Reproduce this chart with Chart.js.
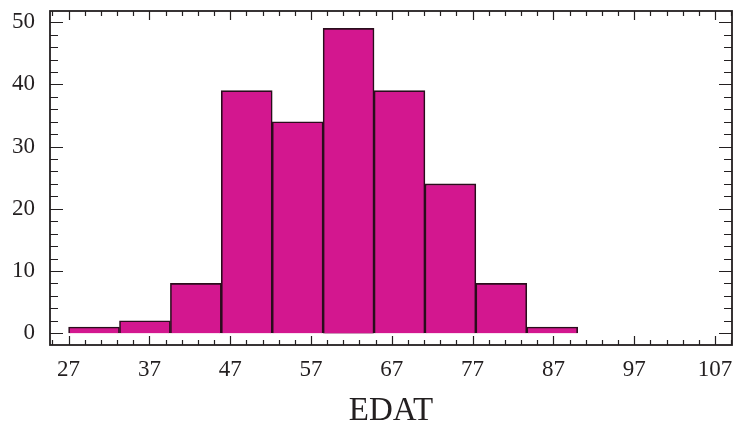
<!DOCTYPE html>
<html>
<head>
<meta charset="utf-8">
<script src="https://cdn.jsdelivr.net/npm/chart.js@4"></script>
<style>
  body { margin: 0; background: #fff; }
  #wrap { width: 734px; height: 428px; }
</style>
</head>
<body>
<div id="wrap"><canvas id="hist"></canvas></div>
<script>
//histogram data
const binEdges = [27, 33.3, 39.6, 45.9, 52.2, 58.5, 64.8, 71.1, 77.4, 83.7, 90];
const counts = [1, 2, 8, 39, 34, 49, 39, 24, 8, 1];

//axes
const xTicks = [27, 37, 47, 57, 67, 77, 87, 97, 107];
const yTicks = [0, 10, 20, 30, 40, 50];
const xTitle = 'EDAT';

const serif = 'Liberation Serif';
const ink = '#231f20';

//bars sit on the bin centres, width comes from the bin spacing
const points = counts.map((c, i) => ({ x: (binEdges[i] + binEdges[i + 1]) / 2, y: c }));

//frame with inward ticks on all four sides
const frameTicks = {
  id: 'frameTicks',
  afterDraw(chart) {
    const { ctx, chartArea: a, scales: { x, y } } = chart;
    ctx.save();
    ctx.strokeStyle = ink;
    ctx.lineWidth = 1.2;
    ctx.beginPath();
    for (let v = 25; v <= x.max; v += 2) {
      const px = Math.round(x.getPixelForValue(v)) + 0.5;
      const len = xTicks.includes(v) ? 9 : 5;
      ctx.moveTo(px, a.bottom); ctx.lineTo(px, a.bottom - len);
      ctx.moveTo(px, a.top); ctx.lineTo(px, a.top + len);
    }
    for (let v = 0; v <= y.max; v += 2) {
      const py = Math.round(y.getPixelForValue(v)) + 0.5;
      const len = yTicks.includes(v) ? 13 : 8;
      ctx.moveTo(a.left, py); ctx.lineTo(a.left + len, py);
      ctx.moveTo(a.right, py); ctx.lineTo(a.right - len, py);
    }
    ctx.stroke();
    ctx.lineWidth = 1.8;
    ctx.strokeRect(a.left, a.top, a.right - a.left, a.bottom - a.top);
    ctx.restore();
  },
};

new Chart(document.querySelector('#hist'), {
  type: 'bar',
  data: {
    datasets: [
      {
        data: points,
        backgroundColor: '#d3178f',
        borderColor: '#2a0d1c',
        borderWidth: 1.6,
        barPercentage: 1,
        categoryPercentage: 1,
      },
    ],
  },
  options: {
    responsive: true,
    maintainAspectRatio: false,
    animation: false,
    layout: { padding: { top: 11, right: 2, left: 0, bottom: 0 } },
    plugins: { legend: { display: false }, tooltip: { enabled: false } },
    scales: {
      x: {
        type: 'linear',
        offset: false,
        min: 24.7,
        max: 109.1,
        afterFit: (s) => {
          s.height = 83;
          s.paddingLeft = 0;
          s.paddingRight = 0;
        },
        afterBuildTicks: (s) => { s.ticks = xTicks.map((v) => ({ value: v })); },
        grid: { display: false, drawTicks: false },
        border: { display: false },
        ticks: {
          color: ink,
          font: { family: serif, size: 23 },
          padding: 11,
          maxRotation: 0,
          autoSkip: false,
        },
        title: {
          display: true,
          text: xTitle,
          color: ink,
          font: { family: serif, size: 33, lineHeight: 1 },
          padding: { top: 0, bottom: 0 },
        },
      },
      y: {
        min: -1.9,
        max: 51.8,
        afterFit: (s) => {
          s.width = 50;
          s.paddingTop = 0;
          s.paddingBottom = 0;
        },
        afterBuildTicks: (s) => { s.ticks = yTicks.map((v) => ({ value: v })); },
        grid: { display: false, drawTicks: false },
        border: { display: false },
        ticks: {
          color: ink,
          font: { family: serif, size: 23 },
          padding: 15,
        },
      },
    },
  },
  plugins: [frameTicks],
});
</script>
</body>
</html>
